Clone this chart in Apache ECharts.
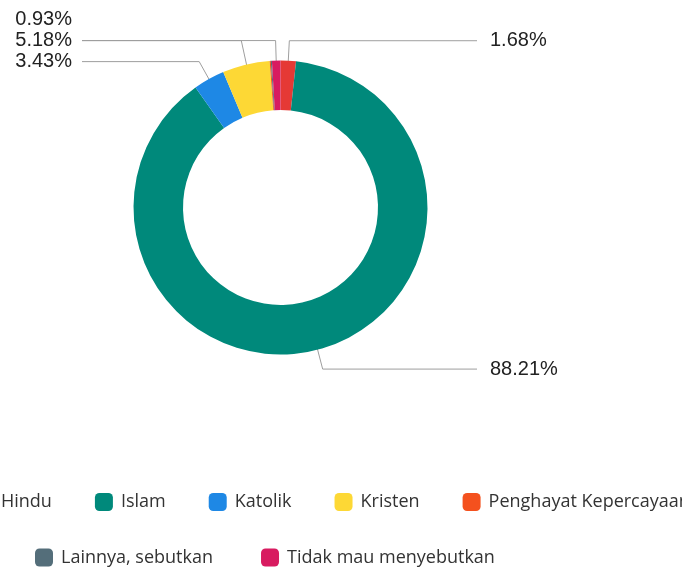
<!DOCTYPE html>
<html>
<head>
<meta charset="utf-8">
<script src="https://cdn.jsdelivr.net/npm/echarts@6/dist/echarts.min.js"></script>
<style>
  html, body { margin: 0; padding: 0; background: #fff; }
  #main { width: 682px; height: 569px; }
</style>
</head>
<body>
<div id="main"></div>
<script>
// kategori agama (urutan sesuai legenda)
var categories = ['Hindu', 'Islam', 'Katolik', 'Kristen', 'Penghayat Kepercayaan', 'Lainnya, sebutkan', 'Tidak mau menyebutkan']
// persentase tiap kategori (%)
var percentages = [1.68, 88.21, 3.43, 5.18, 0.12, 0.12, 0.93]
var colors = ['#e53935', '#00897b', '#1e88e5', '#fdd835', '#f4511e', '#546e7a', '#d81b60']
// legenda dua baris
var legendRow1 = categories.slice(0, 5)
var legendRow2 = categories.slice(5)

var cx = 280.5
var cy = 207.5
var innerR = 97.5
var outerR = 147
var minLabel = 0.5 // irisan kecil tidak diberi label
var lineR = 122 // garis label mulai dari tengah cincin
var elbowR = 167
var rowGap = 21
var leftTextX = 72
var leftLineX = 82
var rightTextX = 490
var rightLineX = 477

// hitung posisi label: sudut tengah tiap irisan lalu susun supaya tidak bertumpuk
var total = percentages.reduce(function (a, b) { return a + b }, 0)
var layouts = []
var acc = 0
for (var i = 0; i < percentages.length; i++) {
  var mid = (acc + percentages[i] / 2) / total * Math.PI * 2
  acc += percentages[i]
  layouts.push({
    idx: i,
    show: percentages[i] >= minLabel,
    left: Math.sin(mid) < 0,
    sx: cx + lineR * Math.sin(mid),
    sy: cy - lineR * Math.cos(mid),
    ex: cx + elbowR * Math.sin(mid),
    ey: cy - elbowR * Math.cos(mid)
  })
}
;[true, false].forEach(function (side) {
  var list = layouts.filter(function (l) { return l.show && l.left === side })
  list.sort(function (a, b) { return b.ey - a.ey })
  var prev = Infinity
  list.forEach(function (l) {
    l.y = Math.min(l.ey, prev - rowGap)
    prev = l.y
    // kalau label digeser jauh, garis tetap di posisi aslinya
    l.lineY = (l.ey - l.y) > 10 ? l.ey : l.y
  })
})

var pieData = []
for (var k = 0; k < categories.length; k++) {
  var item = { name: categories[k], value: percentages[k], itemStyle: { color: colors[k] } }
  if (percentages[k] < minLabel) {
    item.label = { show: false }
    item.labelLine = { show: false }
  }
  pieData.push(item)
}

var chart = echarts.init(document.getElementById('main'))
var legendText = { fontFamily: 'Open Sans', fontSize: 18, color: '#333', padding: [0, 0, 0, 3] }
chart.setOption({
  animation: false,
  legend: [
    {
      data: legendRow1,
      left: -25,
      top: 493,
      width: 800,
      padding: 0,
      itemGap: 43,
      itemWidth: 18,
      itemHeight: 18,
      icon: 'roundRect',
      selectedMode: false,
      textStyle: legendText
    },
    {
      data: legendRow2,
      left: 35,
      top: 548.5,
      padding: 0,
      itemGap: 48,
      itemWidth: 18,
      itemHeight: 18,
      icon: 'roundRect',
      selectedMode: false,
      textStyle: legendText
    }
  ],
  series: [
    {
      type: 'pie',
      center: [cx, cy],
      radius: [innerR, outerR],
      startAngle: 90,
      clockwise: true,
      avoidLabelOverlap: false,
      emphasis: { disabled: true },
      data: pieData,
      label: {
        show: true,
        position: 'outside',
        formatter: function (p) { return p.value.toFixed(2) + '%' },
        fontFamily: 'Liberation Sans',
        fontSize: 20,
        color: '#222'
      },
      labelLine: {
        show: true,
        lineStyle: { color: '#9e9e9e', width: 1 }
      },
      labelLayout: function (params) {
        var l = layouts[params.dataIndex]
        if (!l.show) return {}
        var endX = l.left ? leftLineX : rightLineX
        return {
          x: l.left ? leftTextX : rightTextX,
          y: l.y,
          align: l.left ? 'right' : 'left',
          verticalAlign: 'middle',
          labelLinePoints: [[l.sx, l.sy], [l.ex, l.lineY], [endX, l.lineY]]
        }
      }
    }
  ]
})
</script>
</body>
</html>
